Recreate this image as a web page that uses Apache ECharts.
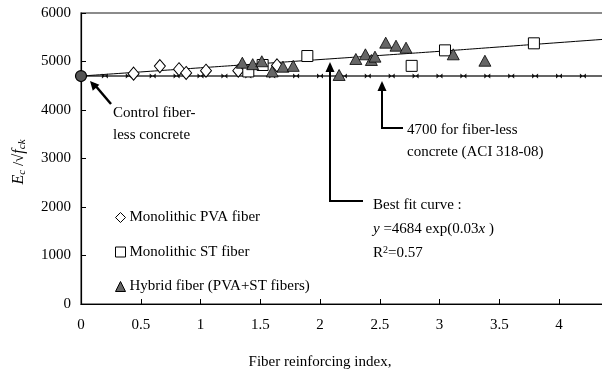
<!DOCTYPE html>
<html><head><meta charset="utf-8">
<script src="https://cdn.jsdelivr.net/npm/echarts@6/dist/echarts.min.js"></script>
<style>html,body{margin:0;padding:0;background:#fff}#c{width:602px;height:380px}</style>
</head><body><div id="c"></div>
<script>
// ---- data ----
const xTickMax = 4.5;
const yTicks = [0, 1000, 2000, 3000, 4000, 5000, 6000];
const pvaX = [0.44, 0.66, 0.82, 0.88, 1.046, 1.316, 1.64];
const pvaY = [4750, 4905, 4842, 4765, 4810, 4810, 4920];
const stX = [1.40, 1.52, 1.894, 2.767, 3.046, 3.79];
const stY = [4795, 4928, 5113, 4910, 5230, 5375];
const hyX = [1.35, 1.437, 1.513, 1.60, 1.69, 1.776, 2.16, 2.30, 2.38, 2.43, 2.46, 2.55, 2.636, 2.72, 3.115, 3.38];
const hyY = [4975, 4945, 5005, 4795, 4893, 4910, 4722, 5052, 5148, 5031, 5100, 5388, 5326, 5285, 5148, 5016];
const controlX = [0];
const controlY = [4700];
const fitX = [0, 0.5, 1, 1.5, 2, 2.5, 3, 3.5, 4, 4.5];
const fitY = [4700, 4785, 4870, 4955, 5040, 5125, 5210, 5300, 5390, 5480];
const refX = [0, 0.2, 0.4, 0.6, 0.8, 1.0, 1.2, 1.4, 1.6, 1.8, 2.0, 2.2, 2.4, 2.6, 2.8, 3.0, 3.2, 3.4, 3.6, 3.8, 4.0, 4.2, 4.4];
const refY = [4700, 4700, 4700, 4700, 4700, 4700, 4700, 4700, 4700, 4700, 4700, 4700, 4700, 4700, 4700, 4700, 4700, 4700, 4700, 4700, 4700, 4700, 4700];
const seriesNames = ['Monolithic PVA fiber', 'Monolithic ST fiber', 'Hybrid fiber (PVA+ST fibers)'];
const xTitle = 'Fiber reinforcing index,';

const zip = (a, b) => a.map((v, i) => [v, b[i]]);
const FONT = '"Liberation Serif", "Times New Roman", serif';
const chart = echarts.init(document.getElementById('c'), null, {renderer: 'canvas'});

const bowtie = 'path://M0,0 L10,5 L10,0 L0,5 Z';

chart.setOption({
  animation: false,
  backgroundColor: '#fff',
  grid: {left: 81, top: 13, width: 537.75, bottom: 76, show: true, borderColor: '#666', borderWidth: 1.5,
    backgroundColor: 'transparent', containLabel: false, outerBoundsMode: 'none'},
  xAxis: {
    type: 'value', min: 0, max: xTickMax, interval: 0.5,
    axisLine: {lineStyle: {color: '#000', width: 1.2}},
    axisTick: {inside: true, length: 5, lineStyle: {color: '#000'}},
    axisLabel: {color: '#000', fontFamily: FONT, fontSize: 15, margin: 14,
      formatter: v => String(v)},
    splitLine: {show: false}
  },
  yAxis: {
    type: 'value', min: yTicks[0], max: yTicks[yTicks.length - 1], interval: 1000,
    axisLine: {show: true, lineStyle: {color: '#000', width: 1.2}},
    axisTick: {show: true, inside: true, length: 5, lineStyle: {color: '#000'}},
    axisLabel: {color: '#000', fontFamily: FONT, fontSize: 15, margin: 10, formatter: v => String(v)},
    splitLine: {show: false}
  },
  legend: {
    orient: 'vertical', left: 110, top: 205, itemGap: 19.5, itemWidth: 10, itemHeight: 10,
    itemStyle: {borderWidth: 1},
    textStyle: {color: '#000', fontFamily: FONT, fontSize: 15, padding: [0, 0, 0, -1]},
    data: seriesNames
  },
  series: [
    {type: 'line', name: 'ref', data: zip(refX, refY), showSymbol: true, symbol: bowtie, symbolSize: [6, 5],
      lineStyle: {color: '#333', width: 1.5}, itemStyle: {color: '#111'}, z: 2, silent: true},
    {type: 'line', name: 'fit', data: zip(fitX, fitY), smooth: true, showSymbol: false,
      lineStyle: {color: '#000', width: 1}, z: 2, silent: true},
    {type: 'scatter', name: seriesNames[0], data: zip(pvaX, pvaY), symbol: 'diamond', symbolSize: [11, 13],
      itemStyle: {color: '#fff', borderColor: '#000', borderWidth: 1, opacity: 1}, z: 5},
    {type: 'scatter', name: seriesNames[1], data: zip(stX, stY), symbol: 'rect', symbolSize: 11,
      itemStyle: {color: '#fff', borderColor: '#000', borderWidth: 1, opacity: 1}, z: 5},
    {type: 'scatter', name: seriesNames[2], data: zip(hyX, hyY), symbol: 'triangle', symbolSize: [12, 11],
      itemStyle: {color: '#666', borderColor: '#000', borderWidth: 0.8, opacity: 1}, z: 6},
    {type: 'scatter', name: 'control', data: zip(controlX, controlY), symbol: 'circle', symbolSize: 11,
      itemStyle: {color: '#555', borderColor: '#000', borderWidth: 1.2, opacity: 1}, z: 7}
  ]
});

// annotations
const p = (x, y) => chart.convertToPixel({gridIndex: 0}, [x, y]);
const c0 = p(0, 4700);
const tipCtrl = [c0[0] + 9, c0[1] + 5];
const startCtrl = [111, 104];
const aciTip = [382, p(2.57, 4700)[1] + 5];
const fitTip = [330, 62];

function arrowHead(tip, from, len, half) {
  const dx = tip[0] - from[0], dy = tip[1] - from[1];
  const L = Math.hypot(dx, dy); const ux = dx / L, uy = dy / L;
  const bx = tip[0] - ux * len, by = tip[1] - uy * len;
  return {type: 'polygon', shape: {points: [tip, [bx - uy * half, by + ux * half], [bx + uy * half, by - ux * half]]},
    style: {fill: '#000'}, z: 20};
}
const txt = (x, y, text, extra) => Object.assign({type: 'text', x: x, y: y, z: 20,
  style: {text: text, fill: '#000', font: '15px ' + FONT, textVerticalAlign: 'middle', verticalAlign: 'middle'}}, extra || {});

chart.setOption({graphic: [
  // control arrow
  {type: 'line', shape: {x1: startCtrl[0], y1: startCtrl[1], x2: tipCtrl[0] + 4, y2: tipCtrl[1] + 3}, style: {stroke: '#000', lineWidth: 2.5}, z: 20},
  arrowHead(tipCtrl, startCtrl, 9, 4.5),
  txt(113, 113, 'Control fiber-'),
  txt(113, 135, 'less concrete'),
  // ACI arrow
  {type: 'polyline', shape: {points: [[aciTip[0], aciTip[1] + 8], [aciTip[0], 128], [403, 128]]}, style: {stroke: '#000', lineWidth: 2, fill: null}, z: 20},
  arrowHead(aciTip, [aciTip[0], 128], 10, 4.5),
  txt(407, 130, '4700 for fiber-less'),
  txt(407, 152, 'concrete (ACI 318-08)'),
  // fit arrow
  {type: 'polyline', shape: {points: [[fitTip[0], fitTip[1] + 8], [fitTip[0], 201], [363, 201]]}, style: {stroke: '#000', lineWidth: 2, fill: null}, z: 20},
  arrowHead(fitTip, [fitTip[0], 201], 10, 4.5),
  txt(373, 205, 'Best fit curve :'),
  {type: 'text', x: 373, y: 229, z: 20, style: {
    text: '{i|y} =4684 exp(0.03{i|x} )', verticalAlign: 'middle', fill: '#000', font: '15px ' + FONT,
    rich: {i: {fontStyle: 'italic', fontFamily: FONT, fontSize: 15, fill: '#000'}}}},
  {type: 'text', x: 373, y: 253, z: 20, style: {
    text: 'R{s|2}=0.57', verticalAlign: 'middle', fill: '#000', font: '15px ' + FONT,
    rich: {s: {fontSize: 10, fontFamily: FONT, verticalAlign: 'top', fill: '#000', padding: [0, 0, 6, 0]}}}},
  // axis titles
  {type: 'text', x: 320, y: 362, z: 20, style: {text: xTitle, fill: '#000', font: '15px ' + FONT, align: 'center', verticalAlign: 'middle'}},
  {type: 'text', x: 19, y: 162, rotation: Math.PI / 2, z: 20, style: {
    text: '{i|E}{s|c} /√{i|f}{s|ck}', align: 'center', verticalAlign: 'middle', fill: '#000', font: '15px ' + FONT,
    rich: {i: {fontStyle: 'italic', fontSize: 16, fontFamily: FONT, fill: '#000'},
           s: {fontStyle: 'italic', fontSize: 11, fontFamily: FONT, fill: '#000', padding: [6, 0, 0, 0]}}}}
]});
</script></body></html>
